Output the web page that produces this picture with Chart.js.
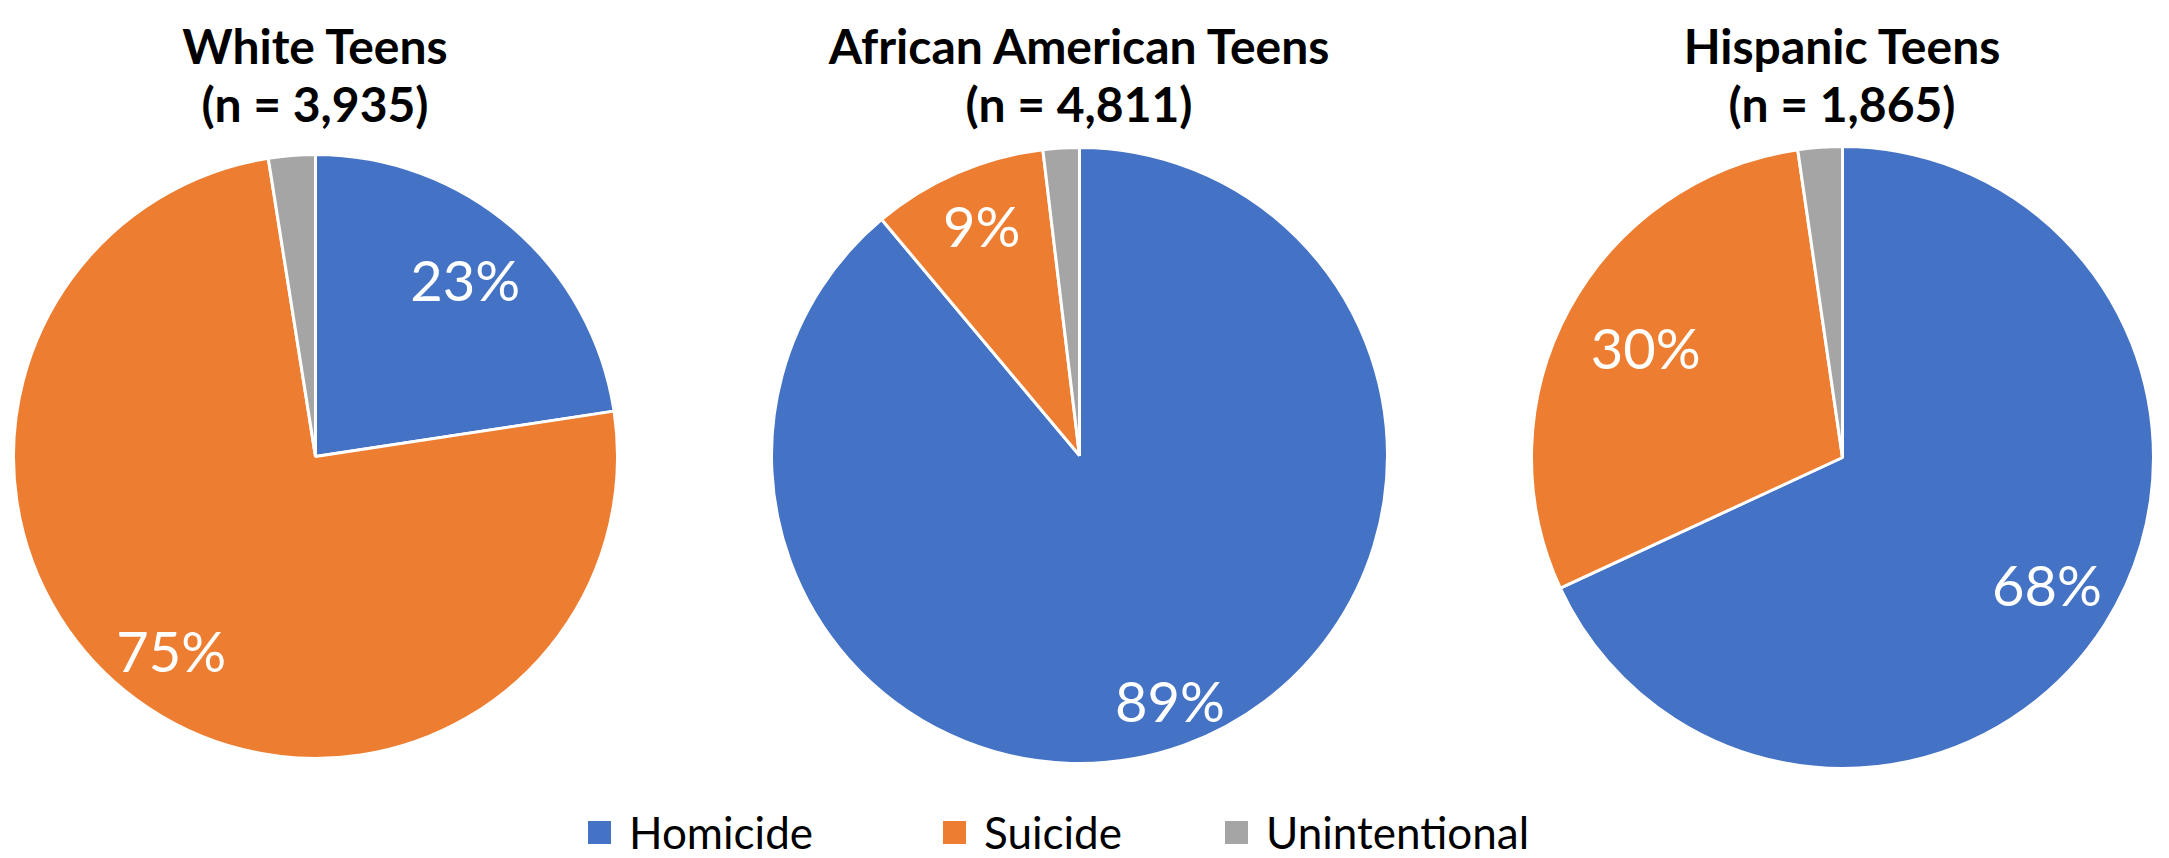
<!DOCTYPE html>
<html>
<head>
<meta charset="utf-8">
<script src="https://cdn.jsdelivr.net/npm/chart.js@4/dist/chart.umd.min.js"></script>
<style>
    body { margin: 0; background: #fff; width: 2169px; height: 858px; position: relative; overflow: hidden; font-family: Lato, 'Open Sans', sans-serif; }
    .pie { position: absolute; }
    .title { position: absolute; width: 600px; text-align: center; font-weight: bold; font-size: 48px; line-height: 58px; color: #000; }
    .legend { position: absolute; top: 806px; left: 0; width: 2169px; height: 50px; }
    .legend-item { position: absolute; display: flex; align-items: center; font-size: 44px; color: #000; }
    .legend-item span.box { display: inline-block; width: 23px; height: 23px; margin-right: 18px; }
</style>
</head>
<body>
<div id="charts"></div>
<div class="legend" id="legend"></div>
<script>
// data
const categories = ['Homicide', 'Suicide', 'Unintentional'];
const groupTitles = ['White Teens', 'African American Teens', 'Hispanic Teens'];
const sampleSizes = ['3,935', '4,811', '1,865'];
const whiteValues = [22.6, 74.9, 2.5];
const africanAmericanValues = [88.9, 9.2, 1.9];
const hispanicValues = [68.1, 29.6, 2.3];
const showLabel = [true, true, false];

const colors = ['#4472C4', '#ED7D31', '#A5A5A5'];

// layout for each pie: center x, center y, radius
const layout = [
    { cx: 315, cy: 456, r: 302 },
    { cx: 1079, cy: 455, r: 308 },
    { cx: 1842, cy: 457, r: 311 }
];
const labelRadius = [[0.76, 0.81], [0.86, 0.8], [0.78, 0.72]];

// draws the percent labels inside slices
const sliceLabels = {
    id: 'sliceLabels',
    afterDatasetsDraw(chart) {
        const ctx = chart.ctx;
        const meta = chart.getDatasetMeta(0);
        const data = chart.data.datasets[0].data;
        const total = data.reduce((a, b) => a + b, 0);
        const fr = chart.options.plugins.sliceLabels.radius;
        ctx.save();
        ctx.fillStyle = '#fff';
        ctx.font = '56px Lato';
        ctx.textAlign = 'center';
        ctx.textBaseline = 'middle';
        meta.data.forEach((arc, i) => {
            if (!showLabel[i]) return;
            const p = arc.getProps(['x', 'y', 'startAngle', 'endAngle', 'outerRadius'], true);
            const mid = (p.startAngle + p.endAngle) / 2;
            const rr = p.outerRadius * fr[i];
            const txt = Math.round(data[i] / total * 100) + '%';
            ctx.fillText(txt, p.x + Math.cos(mid) * rr, p.y + Math.sin(mid) * rr);
        });
        ctx.restore();
    }
};

const allValues = [whiteValues, africanAmericanValues, hispanicValues];
const holder = document.getElementById('charts');

allValues.forEach((vals, k) => {
    const L = layout[k];
    const size = 2 * L.r + 3;

    const t = document.createElement('div');
    t.className = 'title';
    t.style.left = (L.cx - 300) + 'px';
    t.style.top = '17px';
    t.innerHTML = groupTitles[k] + '<br>(n = ' + sampleSizes[k] + ')';
    document.body.appendChild(t);

    const box = document.createElement('div');
    box.className = 'pie';
    box.style.left = (L.cx - size / 2) + 'px';
    box.style.top = (L.cy - size / 2) + 'px';
    box.style.width = size + 'px';
    box.style.height = size + 'px';
    const cv = document.createElement('canvas');
    box.appendChild(cv);
    holder.appendChild(box);

    new Chart(cv.getContext('2d'), {
        type: 'pie',
        data: {
            labels: categories,
            datasets: [{
                data: vals,
                backgroundColor: colors,
                borderColor: '#fff',
                borderWidth: 3
            }]
        },
        options: {
            responsive: true,
            maintainAspectRatio: false,
            animation: false,
            plugins: {
                legend: { display: false },
                tooltip: { enabled: false },
                sliceLabels: { radius: labelRadius[k] }
            }
        },
        plugins: [sliceLabels]
    });
});

// shared legend
const legendX = [588, 943, 1225];
const legend = document.getElementById('legend');
categories.forEach((c, i) => {
    const item = document.createElement('div');
    item.className = 'legend-item';
    item.style.left = legendX[i] + 'px';
    item.innerHTML = '<span class="box" style="background:' + colors[i] + '"></span>' + c;
    legend.appendChild(item);
});
</script>
</body>
</html>
